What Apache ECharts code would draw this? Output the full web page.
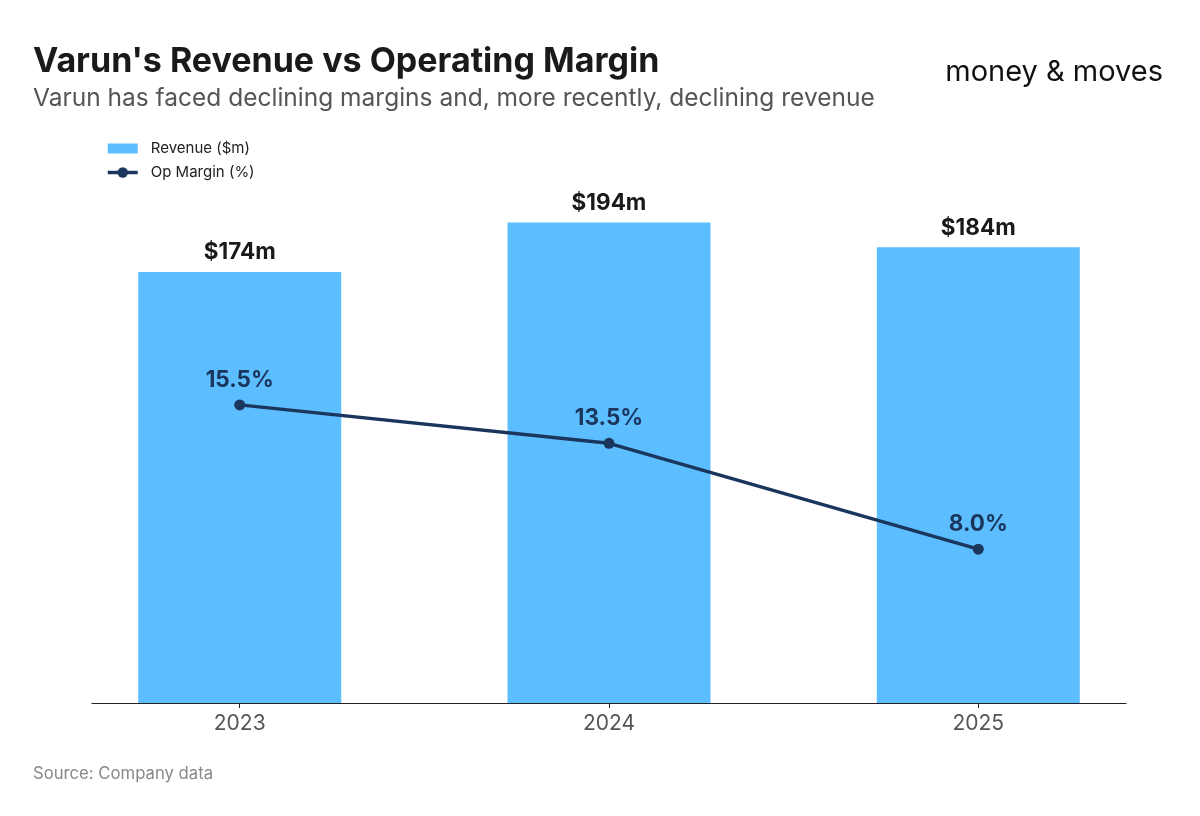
<!DOCTYPE html>
<html>
<head>
<meta charset="utf-8">
<script src="https://cdn.jsdelivr.net/npm/echarts@6/dist/echarts.min.js"></script>
<style>
html,body{margin:0;padding:0;background:#fff;}
#chart{width:1200px;height:816px;}
</style>
</head>
<body>
<div id="chart"></div>
<script>
const years = ['2023', '2024', '2025'];
const revenue = [174, 194, 184];
const opMargin = [15.5, 13.5, 8.0];

const chart = echarts.init(document.getElementById('chart'));
const idx = years.map((y, i) => i);
const FONT = 'Inter, "Noto Sans", sans-serif';

chart.setOption({
  backgroundColor: '#ffffff',
  animation: false,
  textStyle: { fontFamily: FONT },
  title: [
    { text: "Varun's Revenue vs Operating Margin", left: 28, top: 40,
      textStyle: { fontSize: 34, fontWeight: 'bold', color: '#1a1a1a', fontFamily: FONT } },
    { text: 'Varun has faced declining margins and, more recently, declining revenue', left: 28, top: 81,
      textStyle: { fontSize: 24.5, fontWeight: 'normal', color: '#555555', fontFamily: FONT } },
    { text: 'Source: Company data', left: 28, top: 760,
      textStyle: { fontSize: 16.7, fontWeight: 'normal', color: '#888888', fontFamily: FONT } }
  ],
  graphic: [
    { type: 'text', right: 37, top: 58,
      style: { text: 'money & moves', font: '400 29px Inter, sans-serif', fill: '#111111' } }
  ],
  legend: {
    orient: 'vertical', left: 101, top: 136, itemGap: 9,
    itemWidth: 30, itemHeight: 13,
    textStyle: { fontSize: 15, color: '#222222', fontFamily: FONT, padding: [0, 0, 0, 8] },
    data: [
      { name: 'Revenue ($m)', icon: 'path://M0,1.5H30V11.5H0Z', itemStyle: { color: '#5cbdff' } },
      { name: 'Op Margin (%)', lineStyle: { width: 3.5, color: '#1b365d' } }
    ]
  },
  grid: { left: 92, right: 74, top: 126, bottom: 113 },
  xAxis: {
    type: 'value', min: -0.4, max: 2.4,
    splitLine: { show: false },
    axisLine: { show: true, lineStyle: { color: '#222222', width: 1.2 } },
    axisTick: { show: true, customValues: idx, length: 5, lineStyle: { color: '#222222' } },
    axisLabel: { customValues: idx, formatter: v => years[Math.round(v)], fontSize: 21, color: '#555555', margin: 10, fontFamily: FONT }
  },
  yAxis: [
    { type: 'value', min: 0, max: 233, show: false, splitLine: { show: false } },
    { type: 'value', min: 0, max: 30, show: false, splitLine: { show: false } }
  ],
  series: [
    {
      name: 'Revenue ($m)', type: 'bar', yAxisIndex: 0,
      data: revenue.map((v, i) => [i, v]),
      barWidth: 203,
      itemStyle: { color: '#5cbdff' },
      label: { show: true, position: 'top', distance: 8, formatter: p => '$' + p.value[1] + 'm',
        fontSize: 22.5, fontWeight: 'bold', color: '#1a1a1a', fontFamily: FONT }
    },
    {
      name: 'Op Margin (%)', type: 'line', yAxisIndex: 1,
      data: opMargin.map((v, i) => [i, v]),
      symbol: 'circle', symbolSize: 11,
      lineStyle: { color: '#1b365d', width: 3.5 },
      itemStyle: { color: '#1b365d' },
      label: { show: true, position: 'top', distance: 8, formatter: p => p.value[1].toFixed(1) + '%',
        fontSize: 22.5, fontWeight: 'bold', color: '#1b365d', fontFamily: FONT }
    }
  ]
});
</script>
</body>
</html>
